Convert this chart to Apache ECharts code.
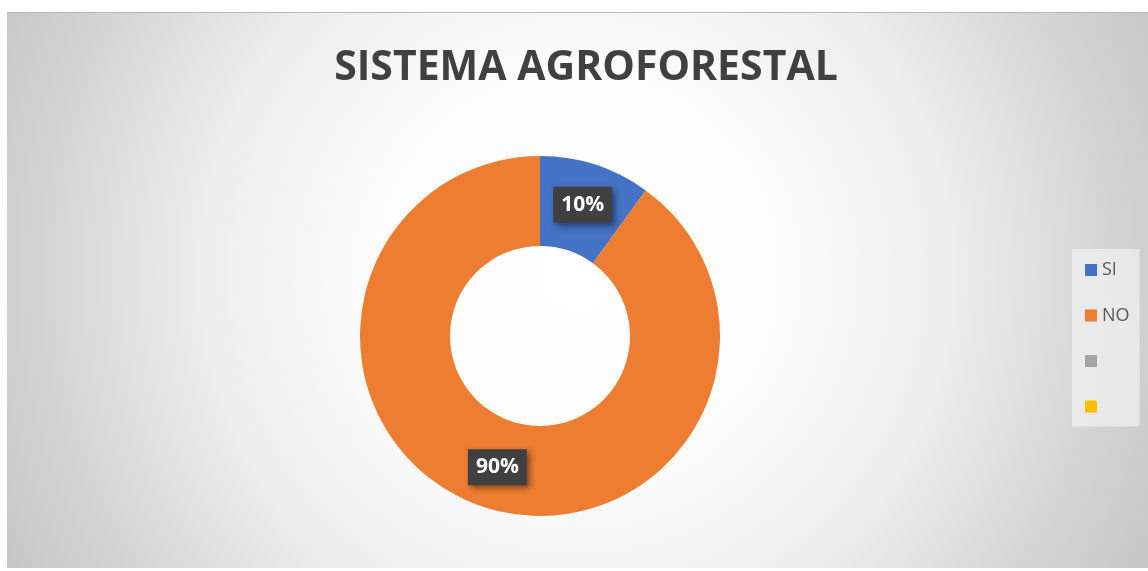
<!DOCTYPE html>
<html>
<head>
<meta charset="utf-8">
<script src="https://cdn.jsdelivr.net/npm/echarts@6/dist/echarts.min.js"></script>
<style>
html,body{margin:0;padding:0;background:#fff;width:1148px;height:571px;overflow:hidden;}
#chart{position:absolute;left:7px;top:12px;width:1141px;height:556px;
  background:radial-gradient(circle at 570px 260px,#ffffff 0px,#fbfbfb 220px,#ececec 380px,#d6d6d6 520px,#c4c4c4 660px);
  border-top:1px solid #b8b8b8;box-sizing:border-box;}
</style>
</head>
<body>
<div id="chart"></div>
<script>
const titleText = 'SISTEMA AGROFORESTAL';
const categories = ['SI', 'NO', '\u200b', '\u200b\u200b'];
const values = [10, 90, 0, 0];
const colors = ['#4472c4', '#ed7d31', '#a5a5a5', '#ffc000'];

const chart = echarts.init(document.getElementById('chart'));
const data = categories.map((c, i) => ({
  name: c,
  value: values[i],
  itemStyle: { color: colors[i] },
  label: { show: values[i] > 0 }
}));

chart.setOption({
  animation: false,
  backgroundColor: 'transparent',
  title: {
    text: titleText,
    left: 574, top: 30, textAlign: 'center',
    textStyle: { fontFamily: 'Open Sans', fontWeight: 'bold', fontSize: 41, color: '#404040' }
  },
  legend: {
    orient: 'vertical',
    left: 1065, top: 236,
    padding: [12, 10, 11, 13],
    backgroundColor: 'rgba(242,242,242,0.7)',
    itemWidth: 12, itemHeight: 12, itemGap: 27.5,
    icon: 'rect',
    data: categories,
    textStyle: { fontFamily: 'Open Sans', fontSize: 18, color: '#595959', padding: [0,0,0,0] }
  },
  series: [{
    type: 'pie',
    center: [533, 323],
    radius: [90, 180],
    startAngle: 90,
    clockwise: true,
    stillShowZeroSum: true,
    avoidLabelOverlap: false,
    data: data,
    label: {
      position: 'inside',
      formatter: p => Math.round(p.percent) + '%',
      fontFamily: 'Open Sans', fontWeight: 'bold', fontSize: 21, color: '#ffffff',
      backgroundColor: '#404040',
      padding: [8, 8, 7, 8],
      shadowColor: 'rgba(0,0,0,0.45)', shadowBlur: 6, shadowOffsetX: 3, shadowOffsetY: 3
    },
    labelLine: { show: false },
    emphasis: { disabled: true }
  }]
});
</script>
</body>
</html>
